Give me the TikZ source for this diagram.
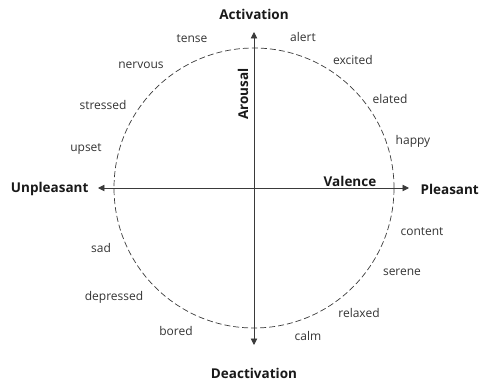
\documentclass[tikz,border=0pt]{standalone}
\usepackage{fontspec}
\setmainfont{Open Sans}
\usepackage{xcolor}
\usetikzlibrary{arrows.meta}
\definecolor{axisgray}{HTML}{3A3A3A}
\definecolor{wordgray}{HTML}{333333}
\tikzset{
  axislabel/.style={text=black!90, font=\bfseries\fontsize{13.5}{15}\selectfont},
  moodword/.style={text=wordgray, font=\fontsize{12}{14}\selectfont},
  axisline/.style={draw=axisgray, line width=0.9pt, {Triangle[length=6.5pt,width=6.5pt]}-{Triangle[length=6.5pt,width=6.5pt]}}
}

\begin{document}
\begin{tikzpicture}
        % Frame
        \useasboundingbox (-254pt,-195pt) rectangle (225pt,188pt);
        \coordinate (origin) at (0,0);
        \coordinate (north) at (0,156pt);
        \coordinate (south) at (0,-157pt);
        \coordinate (west) at (-156pt,0);
        \coordinate (east) at (155pt,0);
        % Circle
        \draw[axisgray, dash pattern=on 6pt off 3pt, line width=0.7pt]
          (origin) circle (140pt);
        % Axes
        \draw[axisline] (west) -- (east);
        \draw[axisline] (south) -- (north);
        % Axis labels
        \node[axislabel] (activation) at (0,174pt) {Activation};
        \node[axislabel] (deactivation) at (0,-185pt) {Deactivation};
        \node[axislabel, anchor=east] (unpleasant) at (-162pt,-1pt) {Unpleasant};
        \node[axislabel, anchor=west] (pleasant) at (163pt,-1pt) {Pleasant};
        \node[axislabel] (valence) at (96pt,7pt) {Valence};
        \node[axislabel, rotate=90] (arousal) at (-11pt,94pt) {Arousal};
        % Words
        \node[moodword] (tense) at (-62pt,149pt) {tense};
        \node[moodword] (alert) at (49pt,151pt) {alert};
        \node[moodword] (nervous) at (-113pt,123pt) {nervous};
        \node[moodword] (excited) at (99pt,128pt) {excited};
        \node[moodword] (stressed) at (-151pt,83pt) {stressed};
        \node[moodword] (elated) at (136pt,89pt) {elated};
        \node[moodword] (upset) at (-168pt,39pt) {upset};
        \node[moodword] (happy) at (159pt,47pt) {happy};
        \node[moodword] (content) at (168pt,-44pt) {content};
        \node[moodword] (sad) at (-153pt,-60pt) {sad};
        \node[moodword] (serene) at (148pt,-84pt) {serene};
        \node[moodword] (depressed) at (-140pt,-109pt) {depressed};
        \node[moodword] (relaxed) at (105pt,-125pt) {relaxed};
        \node[moodword] (bored) at (-78pt,-143pt) {bored};
        \node[moodword] (calm) at (54pt,-148pt) {calm};
      \end{tikzpicture}
\end{document}
